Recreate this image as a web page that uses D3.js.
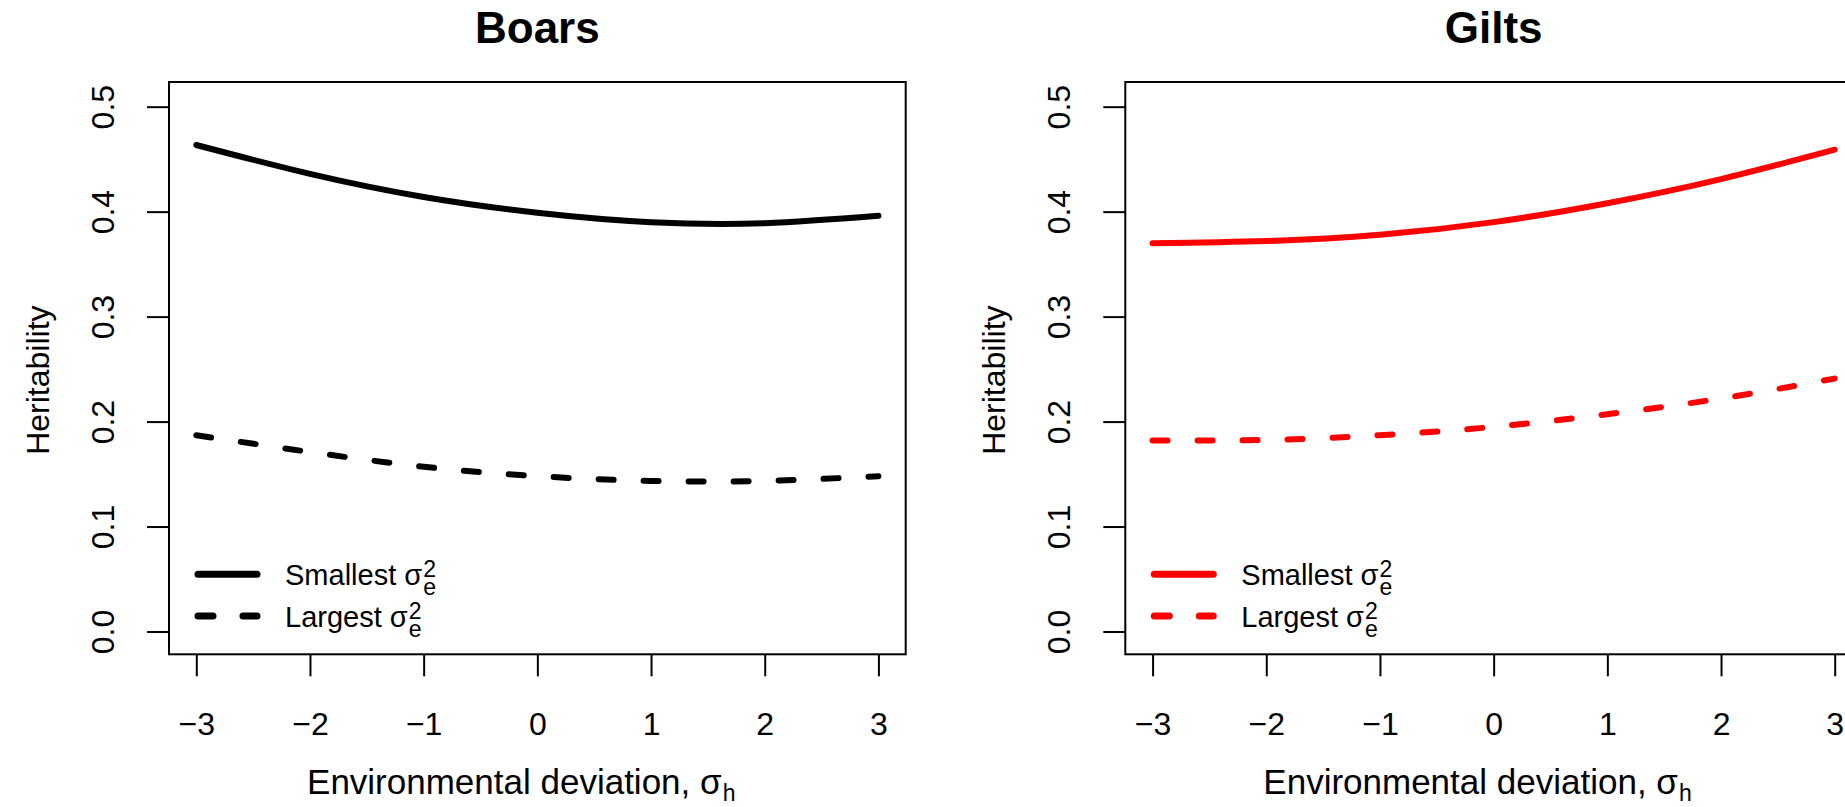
<!DOCTYPE html>
<html>
<head>
<meta charset="utf-8">
<script src="https://cdn.jsdelivr.net/npm/d3@7"></script>
<style>
  body { margin: 0; background: #fff; }
  svg { display: block; font-family: "Liberation Sans", Arial, sans-serif; }
</style>
</head>
<body>
<script>
// data
var panelTitles = ["Boars", "Gilts"];
var panelColors = ["#000000", "#ff0000"];
var xVals = [-3, -2, -1, 0, 1, 2, 3];
var boarsSmallest = [0.4635, 0.436, 0.414, 0.399, 0.390, 0.389, 0.396];
var boarsLargest  = [0.187, 0.171, 0.157, 0.148, 0.1435, 0.1435, 0.148];
var giltsSmallest = [0.370, 0.372, 0.378, 0.390, 0.408, 0.431, 0.459];
var giltsLargest  = [0.182, 0.1825, 0.187, 0.195, 0.207, 0.222, 0.241];
var xTicks = [-3, -2, -1, 0, 1, 2, 3];
var yTicks = [0.0, 0.1, 0.2, 0.3, 0.4, 0.5];
var legendLabels = ["Smallest", "Largest"];

var W = 1845, H = 807;
var boxW = 736.7, boxH = 572.3;
var panelX = [169, 1125.3];
var boxTop = 82;

var svg = d3.select("body").append("svg")
    .attr("width", W)
    .attr("height", H);

var x = d3.scaleLinear().domain([-3.24, 3.24]).range([0, boxW]);
var y = d3.scaleLinear().domain([-0.0217, 0.5235]).range([boxH, 0]);

var line = d3.line()
    .x(function(d) { return x(d[0]); })
    .y(function(d) { return y(d[1]); })
    .curve(d3.curveNatural);

var series = [[boarsSmallest, boarsLargest], [giltsSmallest, giltsLargest]];

function fmtMinus(d) { return d < 0 ? "\u2212" + Math.abs(d) : String(d); }

panelTitles.forEach(function(title, p) {
  var g = svg.append("g")
      .attr("transform", "translate(" + panelX[p] + "," + boxTop + ")");
  var col = panelColors[p];

  // title
  g.append("text")
      .attr("x", boxW / 2).attr("y", 43 - boxTop)
      .attr("text-anchor", "middle")
      .attr("font-size", 44).attr("font-weight", "bold")
      .text(title);

  // x axis
  var xa = g.append("g")
      .attr("transform", "translate(0," + boxH + ")")
      .call(d3.axisBottom(x).tickValues(xTicks).tickSize(22).tickPadding(36).tickFormat(fmtMinus));
  xa.select(".domain").remove();
  xa.selectAll("line").attr("stroke-width", 2);
  xa.selectAll("text").attr("font-size", 32).attr("font-family", null).attr("fill", "#000");

  // y axis
  var ya = g.append("g")
      .call(d3.axisLeft(y).tickValues(yTicks).tickSize(22).tickFormat(d3.format(".1f")));
  ya.select(".domain").remove();
  ya.selectAll("line").attr("stroke-width", 2);
  ya.selectAll("text")
      .attr("x", 0).attr("dy", 0)
      .attr("text-anchor", "middle")
      .attr("transform", "translate(-55,0) rotate(-90)")
      .attr("font-size", 32).attr("font-family", null).attr("fill", "#000");

  // box
  g.append("rect")
      .attr("width", boxW).attr("height", boxH)
      .attr("fill", "none").attr("stroke", "#000").attr("stroke-width", 2);

  // axis titles
  g.append("text")
      .attr("transform", "translate(-120," + (boxH / 2 + 12) + ") rotate(-90)")
      .attr("text-anchor", "middle")
      .attr("font-size", 32)
      .text("Heritability");

  var xtText = g.append("text")
      .attr("y", 794 - boxTop)
      .attr("font-size", 35)
      .text("Environmental deviation, \u03c3");
  var tw = xtText.node().getComputedTextLength();
  var x0 = boxW / 2 - 16 - (tw + 14) / 2;
  xtText.attr("x", x0);
  xtText.append("tspan").attr("x", x0 + tw + 1).attr("dy", 7)
      .attr("font-size", 23).text("h");

  // curves
  series[p].forEach(function(vals, k) {
    var pts = xVals.map(function(v, i) { return [v, vals[i]]; });
    g.append("path")
        .datum(pts)
        .attr("d", line)
        .attr("fill", "none")
        .attr("stroke", col)
        .attr("stroke-width", 6)
        .attr("stroke-linecap", "round")
        .attr("stroke-dasharray", k === 1 ? "15,30" : null);
  });

  // legend
  var rowBase = [585, 626.7];
  legendLabels.forEach(function(lab, k) {
    var ly = rowBase[k] - boxTop;
    g.append("line")
        .attr("x1", 29).attr("x2", 88)
        .attr("y1", ly - 10.7).attr("y2", ly - 10.7)
        .attr("stroke", col).attr("stroke-width", 7)
        .attr("stroke-linecap", "round")
        .attr("stroke-dasharray", k === 1 ? "15,30" : null);
    var t = g.append("text")
        .attr("x", 116).attr("y", ly)
        .attr("font-size", 29)
        .text(lab + "\u00a0\u03c3");
    var w = t.node().getComputedTextLength();
    t.append("tspan").attr("x", 116 + w + 1).attr("dy", -8)
        .attr("font-size", 23).text("2");
    t.append("tspan").attr("x", 116 + w + 1).attr("dy", 18)
        .attr("font-size", 23).text("e");
  });
});
</script>
</body>
</html>
